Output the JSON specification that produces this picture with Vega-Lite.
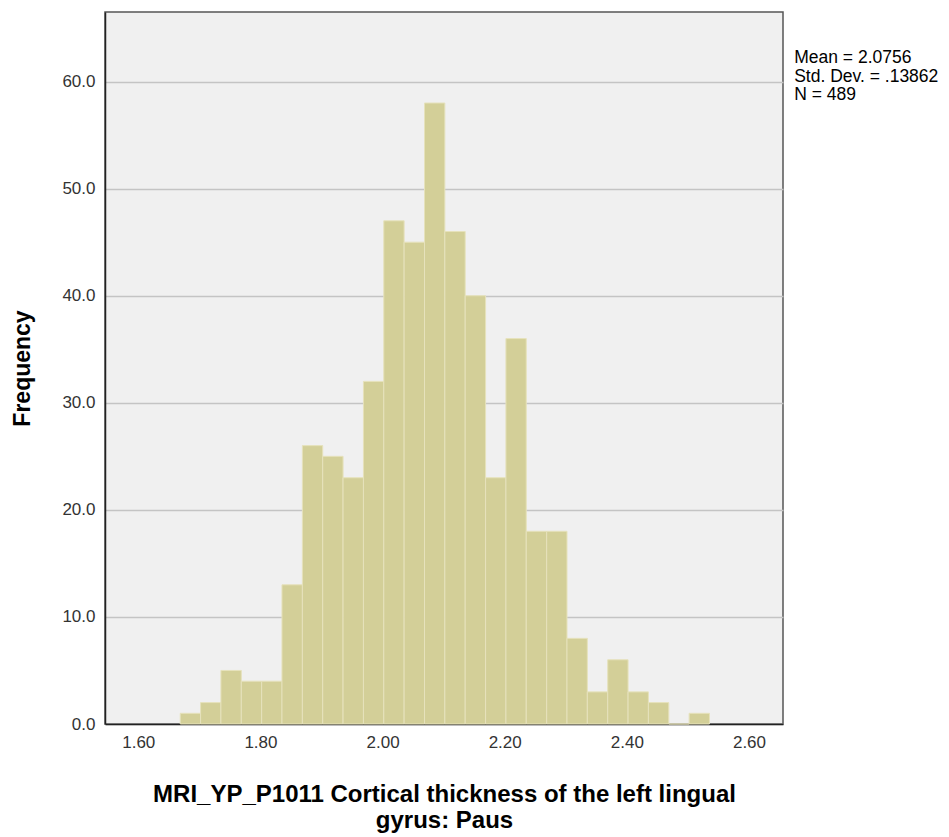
{
  "$schema": "https://vega.github.io/schema/vega-lite/v6.json",
  "width": 678,
  "height": 712,
  "padding": {"left": 105, "top": 12, "right": 166, "bottom": 113},
  "autosize": {"type": "none"},
  "background": "white",
  "config": {
    "view": {"fill": "#f0f0f0", "stroke": "#555555", "strokeWidth": 1.5},
    "font": "Liberation Sans"
  },
  "datasets": {
    "bins": [
      {"bin_start": 1.6687, "bin_end": 1.7020, "count": 1},
      {"bin_start": 1.7020, "bin_end": 1.7353, "count": 2},
      {"bin_start": 1.7353, "bin_end": 1.7687, "count": 5},
      {"bin_start": 1.7687, "bin_end": 1.8020, "count": 4},
      {"bin_start": 1.8020, "bin_end": 1.8353, "count": 4},
      {"bin_start": 1.8353, "bin_end": 1.8687, "count": 13},
      {"bin_start": 1.8687, "bin_end": 1.9020, "count": 26},
      {"bin_start": 1.9020, "bin_end": 1.9353, "count": 25},
      {"bin_start": 1.9353, "bin_end": 1.9687, "count": 23},
      {"bin_start": 1.9687, "bin_end": 2.0020, "count": 32},
      {"bin_start": 2.0020, "bin_end": 2.0353, "count": 47},
      {"bin_start": 2.0353, "bin_end": 2.0687, "count": 45},
      {"bin_start": 2.0687, "bin_end": 2.1020, "count": 58},
      {"bin_start": 2.1020, "bin_end": 2.1353, "count": 46},
      {"bin_start": 2.1353, "bin_end": 2.1687, "count": 40},
      {"bin_start": 2.1687, "bin_end": 2.2020, "count": 23},
      {"bin_start": 2.2020, "bin_end": 2.2353, "count": 36},
      {"bin_start": 2.2353, "bin_end": 2.2687, "count": 18},
      {"bin_start": 2.2687, "bin_end": 2.3020, "count": 18},
      {"bin_start": 2.3020, "bin_end": 2.3353, "count": 8},
      {"bin_start": 2.3353, "bin_end": 2.3687, "count": 3},
      {"bin_start": 2.3687, "bin_end": 2.4020, "count": 6},
      {"bin_start": 2.4020, "bin_end": 2.4353, "count": 3},
      {"bin_start": 2.4353, "bin_end": 2.4687, "count": 2},
      {"bin_start": 2.4687, "bin_end": 2.5020, "count": 0},
      {"bin_start": 2.5020, "bin_end": 2.5353, "count": 1}
    ],
    "stats": [
      {"x": 2.674, "y": 63.0, "label": "Mean = 2.0756\nStd. Dev. = .13862\nN = 489"}
    ]
  },
  "layer": [
    {
      "data": {"name": "bins"},
      "mark": {"type": "rect", "fill": "#d3cf98", "stroke": "#e6e2bc", "strokeWidth": 1},
      "encoding": {
        "x": {
          "field": "bin_start",
          "type": "quantitative",
          "scale": {"domain": [1.5455, 2.6557], "nice": false, "zero": false},
          "axis": {
            "values": [1.6, 1.8, 2.0, 2.2, 2.4, 2.6],
            "format": ".2f",
            "grid": false,
            "ticks": false,
            "domain": true,
            "domainColor": "#222222",
            "domainWidth": 1.5,
            "labelFont": "Liberation Sans",
            "labelFontSize": 17,
            "labelColor": "#333333",
            "labelPadding": 10,
            "title": ["MRI_YP_P1011 Cortical thickness of the left lingual", "gyrus: Paus"],
            "titleFont": "Liberation Sans",
            "titleFontSize": 24,
            "titleFontWeight": "bold",
            "titleColor": "#000000",
            "titlePadding": 32,
            "titleLineHeight": 26
          }
        },
        "x2": {"field": "bin_end"},
        "y": {
          "field": "count",
          "type": "quantitative",
          "scale": {"domain": [0, 66.5], "nice": false},
          "axis": {
            "values": [0, 10, 20, 30, 40, 50, 60],
            "format": ".1f",
            "grid": true,
            "gridColor": "#c4c4c4",
            "gridWidth": 1.5,
            "ticks": false,
            "domain": true,
            "domainColor": "#222222",
            "domainWidth": 1.5,
            "labelFont": "Liberation Sans",
            "labelFontSize": 17,
            "labelColor": "#333333",
            "labelPadding": 10,
            "title": "Frequency",
            "titleFont": "Liberation Sans",
            "titleFontSize": 23,
            "titleFontWeight": "bold",
            "titleColor": "#000000",
            "titlePadding": 27
          }
        },
        "y2": {"datum": 0}
      }
    },
    {
      "data": {"name": "stats"},
      "mark": {"type": "text", "align": "left", "baseline": "top", "lineBreak": "\n", "lineHeight": 18.5, "fontSize": 17.5, "font": "Liberation Sans", "color": "#000000", "clip": false},
      "encoding": {
        "x": {"field": "x", "type": "quantitative"},
        "y": {"field": "y", "type": "quantitative"},
        "text": {"field": "label"}
      }
    }
  ]
}
